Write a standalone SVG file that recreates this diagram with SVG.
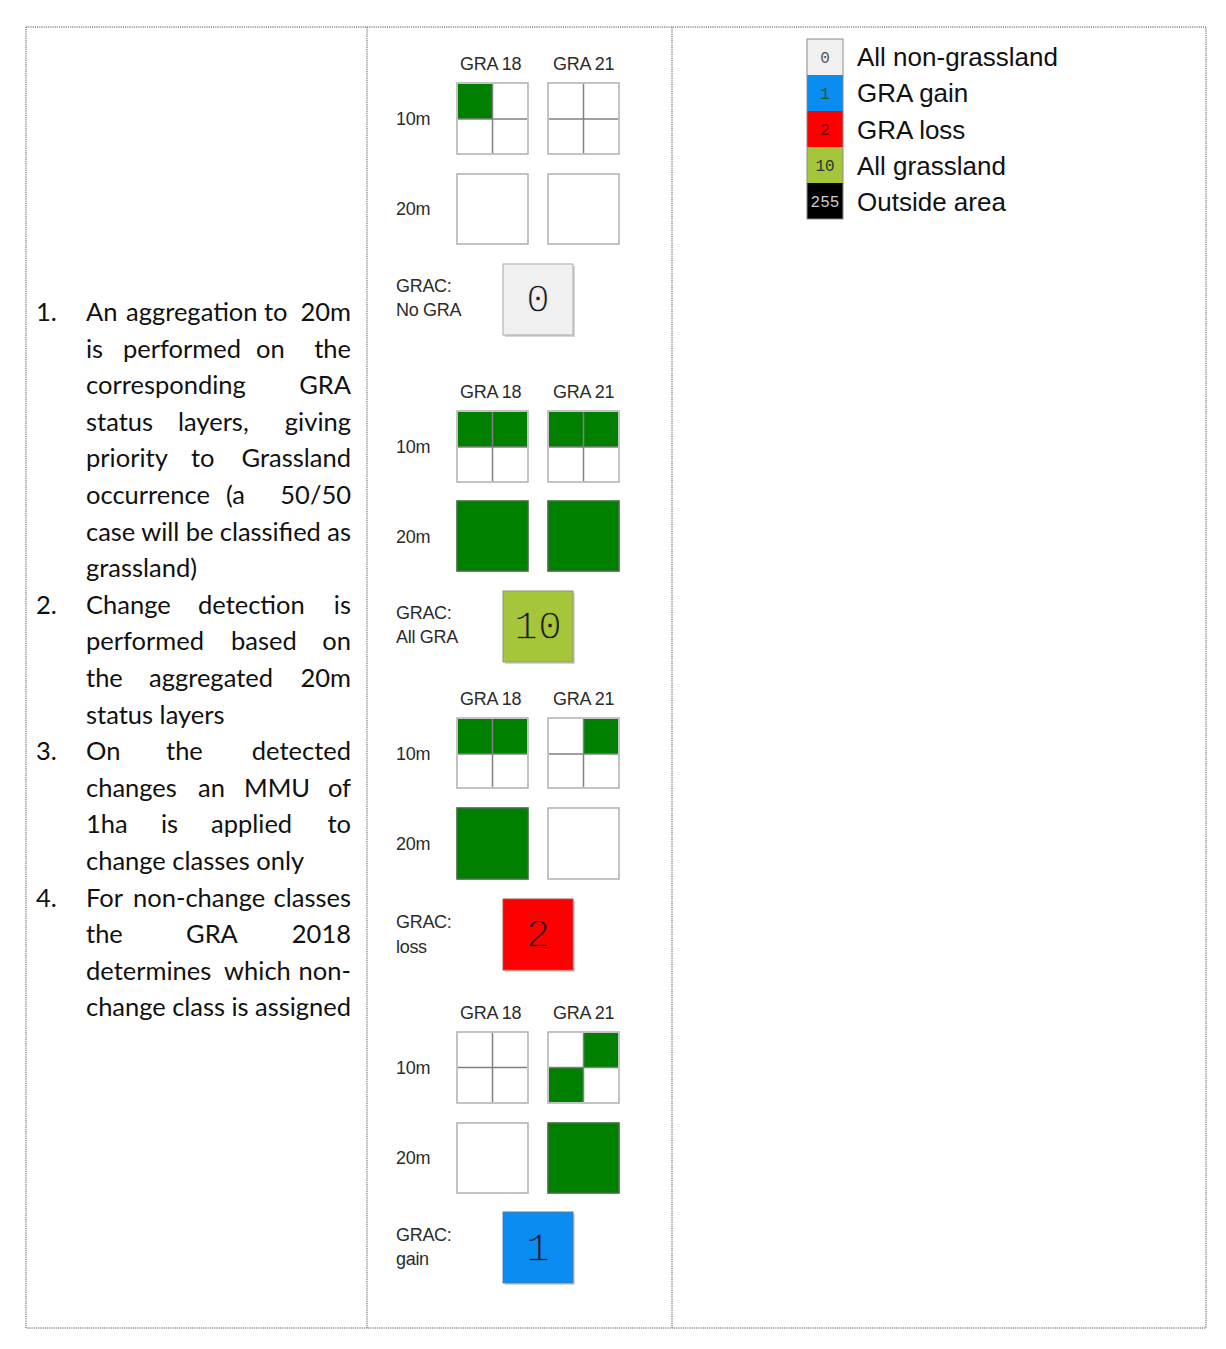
<svg xmlns="http://www.w3.org/2000/svg" width="1226" height="1349" viewBox="0 0 1226 1349">
<style>
.tb{fill:none;stroke:#555;stroke-width:1;stroke-dasharray:1.2 1}
.body{font-family:Lato,"Open Sans",sans-serif;font-size:25.5px;fill:#111}
.end{text-anchor:end}
.lbl{font-family:"Liberation Sans",Arial,sans-serif;font-size:18px;fill:#2b2b2b;letter-spacing:-0.3px}
.leg{font-family:"Liberation Sans",Arial,sans-serif;font-size:26px;fill:#111}
.num{font-family:"Liberation Mono","DejaVu Sans Mono",monospace;font-size:40px;fill:#1a1a1a;text-anchor:middle;stroke-width:1.3px}
.lnum{font-family:"Liberation Mono","DejaVu Sans Mono",monospace;font-size:16px;text-anchor:middle}
.cell{fill:#fff;stroke:#b4b4b4;stroke-width:1.6}
.gc{fill:#007f00}
.gbox{fill:#007f00;stroke:#3e6e3e;stroke-width:1.6}
.in{stroke:#808080;stroke-width:1.5}
.sh{fill:#d6d6d6}
</style>
<rect width="1226" height="1349" fill="#fff"/>

<g id="table">
<rect class="tb" x="26" y="27" width="1180" height="1301"/>
<line class="tb" x1="367" y1="27" x2="367" y2="1328"/>
<line class="tb" x1="672" y1="27" x2="672" y2="1328"/>
</g>

<g id="steps">
<text class="body" y="321"><tspan x="36">1.</tspan><tspan x="86">An</tspan><tspan x="126">aggregation</tspan><tspan x="264">to</tspan></text>
<text class="body end" x="351" y="321">20m</text>
<text class="body" y="357.6"><tspan x="86">is</tspan><tspan x="123">performed</tspan><tspan x="256">on</tspan></text>
<text class="body end" x="351" y="357.6">the</text>
<text class="body" x="86" y="394.2">corresponding</text>
<text class="body end" x="351" y="394.2">GRA</text>
<text class="body" y="430.8"><tspan x="86">status</tspan><tspan x="178">layers,</tspan></text>
<text class="body end" x="351" y="430.8">giving</text>
<text class="body" y="467.4"><tspan x="86">priority</tspan><tspan x="191">to</tspan></text>
<text class="body end" x="351" y="467.4">Grassland</text>
<text class="body" y="504"><tspan x="86">occurrence</tspan><tspan x="226">(a</tspan></text>
<text class="body end" x="351" y="504">50/50</text>
<text class="body" x="86" y="540.6" textLength="265" lengthAdjust="spacing">case will be classified as</text>
<text class="body" x="86" y="577.2">grassland)</text>

<text class="body" y="613.8"><tspan x="36">2.</tspan><tspan x="86">Change</tspan><tspan x="198">detection</tspan></text>
<text class="body end" x="351" y="613.8">is</text>
<text class="body" y="650.4"><tspan x="86">performed</tspan><tspan x="231">based</tspan></text>
<text class="body end" x="351" y="650.4">on</text>
<text class="body" y="687"><tspan x="86">the</tspan><tspan x="149">aggregated</tspan></text>
<text class="body end" x="351" y="687">20m</text>
<text class="body" x="86" y="723.6">status layers</text>

<text class="body" y="760.2"><tspan x="36">3.</tspan><tspan x="86">On</tspan><tspan x="166">the</tspan></text>
<text class="body end" x="351" y="760.2">detected</text>
<text class="body" y="796.8"><tspan x="86">changes</tspan><tspan x="198">an</tspan><tspan x="244">MMU</tspan></text>
<text class="body end" x="351" y="796.8">of</text>
<text class="body" y="833.4"><tspan x="86">1ha</tspan><tspan x="161">is</tspan><tspan x="211">applied</tspan></text>
<text class="body end" x="351" y="833.4">to</text>
<text class="body" x="86" y="870">change classes only</text>

<text class="body" y="906.6"><tspan x="36">4.</tspan><tspan x="86">For</tspan><tspan x="133">non-change</tspan></text>
<text class="body end" x="351" y="906.6">classes</text>
<text class="body" y="943.2"><tspan x="86">the</tspan><tspan x="186">GRA</tspan></text>
<text class="body end" x="351" y="943.2">2018</text>
<text class="body" y="979.8"><tspan x="86">determines</tspan><tspan x="224">which</tspan></text>
<text class="body end" x="351" y="979.8">non-</text>
<text class="body" x="86" y="1016.4" textLength="265" lengthAdjust="spacing">change class is assigned</text>
</g>

<g id="case-no-gra">
<text class="lbl" x="460" y="70">GRA 18</text>
<text class="lbl" x="553" y="70">GRA 21</text>
<text class="lbl" x="396" y="125">10m</text>
<text class="lbl" x="396" y="215">20m</text>
<rect class="cell" x="457" y="83" width="71" height="71"/>
<rect class="gc" x="458" y="84" width="35" height="35"/>
<line class="in" x1="492.5" y1="84" x2="492.5" y2="153"/><line class="in" x1="458" y1="119" x2="527" y2="119"/>
<rect class="cell" x="548" y="83" width="71" height="71"/>
<line class="in" x1="583.5" y1="84" x2="583.5" y2="153"/><line class="in" x1="549" y1="119" x2="618" y2="119"/>
<rect class="cell" x="457" y="174" width="71" height="70"/>
<rect class="cell" x="548" y="174" width="71" height="70"/>
<text class="lbl" x="396" y="292">GRAC:</text>
<text class="lbl" x="396" y="316">No GRA</text>
<rect class="sh" x="505" y="266" width="70" height="71"/>
<rect x="503" y="264" width="70" height="71" fill="#f0f0f0" stroke="#a8a8a8" stroke-width="1"/>
<text class="num" x="538" y="312" stroke="#f0f0f0">0</text>
</g>

<g id="case-all-gra">
<text class="lbl" x="460" y="398">GRA 18</text>
<text class="lbl" x="553" y="398">GRA 21</text>
<text class="lbl" x="396" y="453">10m</text>
<text class="lbl" x="396" y="543">20m</text>
<rect class="cell" x="457" y="411" width="71" height="71"/>
<rect class="gc" x="458" y="412" width="69" height="35"/>
<line class="in" x1="492.5" y1="412" x2="492.5" y2="481"/><line class="in" x1="458" y1="447" x2="527" y2="447"/>
<rect class="cell" x="548" y="411" width="71" height="71"/>
<rect class="gc" x="549" y="412" width="69" height="35"/>
<line class="in" x1="583.5" y1="412" x2="583.5" y2="481"/><line class="in" x1="549" y1="447" x2="618" y2="447"/>
<rect class="gbox" x="457" y="501" width="71" height="70"/>
<rect class="gbox" x="548" y="501" width="71" height="70"/>
<text class="lbl" x="396" y="619">GRAC:</text>
<text class="lbl" x="396" y="643">All GRA</text>
<rect class="sh" x="505" y="593" width="70" height="71"/>
<rect x="503" y="591" width="70" height="71" fill="#a5c63b" stroke="#8a9a70" stroke-width="1"/>
<text class="num" x="538" y="639" stroke="#a5c63b">10</text>
</g>

<g id="case-loss">
<text class="lbl" x="460" y="705">GRA 18</text>
<text class="lbl" x="553" y="705">GRA 21</text>
<text class="lbl" x="396" y="760">10m</text>
<text class="lbl" x="396" y="850">20m</text>
<rect class="cell" x="457" y="718" width="71" height="70"/>
<rect class="gc" x="458" y="719" width="69" height="35"/>
<line class="in" x1="492.5" y1="719" x2="492.5" y2="787"/><line class="in" x1="458" y1="754" x2="527" y2="754"/>
<rect class="cell" x="548" y="718" width="71" height="70"/>
<rect class="gc" x="584" y="719" width="34" height="35"/>
<line class="in" x1="583.5" y1="719" x2="583.5" y2="787"/><line class="in" x1="549" y1="754" x2="618" y2="754"/>
<rect class="gbox" x="457" y="808" width="71" height="71"/>
<rect class="cell" x="548" y="808" width="71" height="71"/>
<text class="lbl" x="396" y="928">GRAC:</text>
<text class="lbl" x="396" y="953">loss</text>
<rect class="sh" x="505" y="901" width="70" height="71"/>
<rect x="503" y="899" width="70" height="71" fill="#ff0000" stroke="#b05050" stroke-width="1"/>
<text class="num" x="538" y="947" stroke="#ff0000">2</text>
</g>

<g id="case-gain">
<text class="lbl" x="460" y="1019">GRA 18</text>
<text class="lbl" x="553" y="1019">GRA 21</text>
<text class="lbl" x="396" y="1074">10m</text>
<text class="lbl" x="396" y="1164">20m</text>
<rect class="cell" x="457" y="1032" width="71" height="71"/>
<line class="in" x1="492.5" y1="1033" x2="492.5" y2="1102"/><line class="in" x1="458" y1="1067.5" x2="527" y2="1067.5"/>
<rect class="cell" x="548" y="1032" width="71" height="71"/>
<rect class="gc" x="584" y="1033" width="34" height="35"/>
<rect class="gc" x="549" y="1068" width="35" height="34"/>
<line class="in" x1="583.5" y1="1033" x2="583.5" y2="1102"/><line class="in" x1="549" y1="1067.5" x2="618" y2="1067.5"/>
<rect class="cell" x="457" y="1123" width="71" height="70"/>
<rect class="gbox" x="548" y="1123" width="71" height="70"/>
<text class="lbl" x="396" y="1241">GRAC:</text>
<text class="lbl" x="396" y="1265">gain</text>
<rect class="sh" x="505" y="1214" width="70" height="71"/>
<rect x="503" y="1212" width="70" height="71" fill="#0a8cf0" stroke="#4a7fa8" stroke-width="1"/>
<text class="num" x="538" y="1261" stroke="#0a8cf0">1</text>
</g>

<g id="legend">
<rect x="807" y="39" width="36" height="36" fill="#f0f0f0"/>
<rect x="807" y="75" width="36" height="36" fill="#0a8cf0"/>
<rect x="807" y="111" width="36" height="36" fill="#ff0000"/>
<rect x="807" y="147" width="36" height="36" fill="#a5c63b"/>
<rect x="807" y="183" width="36" height="36" fill="#000"/>
<rect x="807" y="39" width="36" height="180" fill="none" stroke="#8a8a8a" stroke-width="1"/>
<text class="lnum" x="825" y="63" fill="#555">0</text>
<text class="lnum" x="825" y="99" fill="#1d5a1d">1</text>
<text class="lnum" x="825" y="135" fill="#7a0000">2</text>
<text class="lnum" x="825" y="171" fill="#333">10</text>
<text class="lnum" x="825" y="207" fill="#ccc">255</text>
<text class="leg" x="857" y="66">All non-grassland</text>
<text class="leg" x="857" y="102">GRA gain</text>
<text class="leg" x="857" y="139">GRA loss</text>
<text class="leg" x="857" y="175">All grassland</text>
<text class="leg" x="857" y="211">Outside area</text>
</g>
<g id="connectors"/>
</svg>
